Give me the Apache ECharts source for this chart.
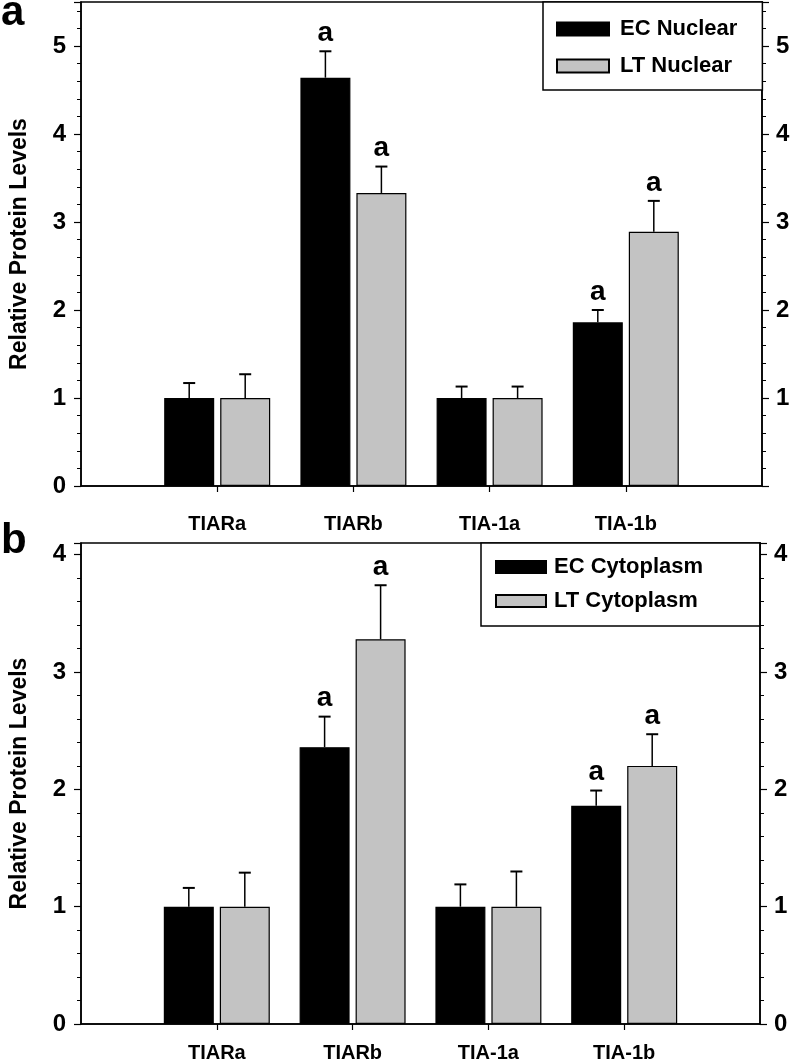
<!DOCTYPE html>
<html>
<head>
<meta charset="utf-8">
<script src="https://cdn.jsdelivr.net/npm/echarts@6/dist/echarts.min.js"></script>
<style>html,body{margin:0;padding:0;background:#fff}#c{width:793px;height:1063px}</style>
</head>
<body>
<div id="c"></div>
<script>
// ---- data ----
const categories = ['TIARa', 'TIARb', 'TIA-1a', 'TIA-1b'];
// Panel a (nuclear)
const ecNuclear = [1.00, 4.64, 1.00, 1.86];
const ecNuclearErr = [0.17, 0.30, 0.13, 0.14];
const ecNuclearSig = ['', 'a', '', 'a'];
const ltNuclear = [1.00, 3.33, 1.00, 2.89];
const ltNuclearErr = [0.27, 0.30, 0.13, 0.35];
const ltNuclearSig = ['', 'a', '', 'a'];
// Panel b (cytoplasm)
const ecCyto = [1.00, 2.36, 1.00, 1.86];
const ecCytoErr = [0.16, 0.26, 0.19, 0.13];
const ecCytoSig = ['', 'a', '', 'a'];
const ltCyto = [1.00, 3.28, 1.00, 2.20];
const ltCytoErr = [0.29, 0.46, 0.30, 0.27];
const ltCytoSig = ['', 'a', '', 'a'];
const yTicksA = [0, 1, 2, 3, 4, 5];
const yTicksB = [0, 1, 2, 3, 4];

// ---- styling ----
const BLACK = '#000000', GRAY = '#c3c3c3';
const BAR_W = 50, BAR_GAP = 6;
const FONT = 'Liberation Sans, Arial, sans-serif';
const axisCats = [''].concat(categories, ['']);
const pad = arr => [null].concat(arr, [null]);

const chart = echarts.init(document.getElementById('c'), null, {renderer: 'canvas'});

function yAxes(gridIndex, max, showLeftMin, showRightMin) {
  const common = {
    type: 'value', gridIndex, min: 0, max, interval: 1,
    splitLine: {show: false},
    axisLine: {show: true, lineStyle: {color: BLACK, width: 1.5}},
    axisTick: {show: true, inside: false, length: 7, lineStyle: {color: BLACK, width: 1.2}},
    minorTick: {show: true, splitNumber: 5, length: 4, lineStyle: {color: BLACK, width: 1}},
    axisLabel: {color: BLACK, fontFamily: FONT, fontWeight: 'bold', fontSize: 24, margin: 15, showMaxLabel: false}
  };
  return [
    Object.assign({}, common, {
      position: 'left',
      name: 'Relative Protein Levels', nameLocation: 'middle', nameGap: 50,
      nameTextStyle: {color: BLACK, fontFamily: FONT, fontWeight: 'bold', fontSize: 23},
      axisLabel: Object.assign({}, common.axisLabel, {showMinLabel: showLeftMin})
    }),
    Object.assign({}, common, {
      position: 'right',
      axisLabel: Object.assign({}, common.axisLabel, {showMinLabel: showRightMin, margin: 14})
    })
  ];
}

function xAxis(gridIndex, margin) {
  return {
    type: 'category', gridIndex, data: axisCats, boundaryGap: false,
    axisLine: {show: true, lineStyle: {color: BLACK, width: 1.5}},
    axisTick: {show: true, length: 6, lineStyle: {color: BLACK, width: 1.2},
      interval: (i) => i > 0 && i < axisCats.length - 1},
    axisLabel: {interval: 0, color: BLACK, fontFamily: FONT, fontWeight: 'bold', fontSize: 20, margin},
    splitLine: {show: false}
  };
}

function barSeries(name, data, color, xi, yi) {
  return {
    name, type: 'bar', xAxisIndex: xi, yAxisIndex: yi, data: pad(data),
    barWidth: BAR_W, barGap: (BAR_GAP / BAR_W * 100) + '%',
    itemStyle: {color, borderColor: BLACK, borderWidth: 1.2},
    z: 2
  };
}

function errSeries(vals, errs, sigs, side, xi, yi) {
  const data = vals.map((v, i) => [i + 1, v, errs[i]]);
  return {
    type: 'custom', xAxisIndex: xi, yAxisIndex: yi, data, z: 5, silent: true,
    renderItem(params, api) {
      const x = api.value(0), v = api.value(1), e = api.value(2);
      const off = side * (BAR_W + BAR_GAP) / 2;
      const p0 = api.coord([x, v]);
      const p1 = api.coord([x, v + e]);
      const cx = p0[0] + off;
      const children = [
        {type: 'line', shape: {x1: cx, y1: p0[1], x2: cx, y2: p1[1]}, style: {stroke: BLACK, lineWidth: 1.5}},
        {type: 'line', shape: {x1: cx - 6, y1: p1[1], x2: cx + 6, y2: p1[1]}, style: {stroke: BLACK, lineWidth: 2}}
      ];
      const s = sigs[params.dataIndex];
      if (s) {
        children.push({type: 'text', x: cx, y: p1[1] - 4,
          style: {text: s, fill: BLACK, font: 'bold 28px ' + FONT, align: 'center', verticalAlign: 'bottom'}});
      }
      return {type: 'group', children};
    }
  };
}

const option = {
  backgroundColor: '#fff',
  animation: false,
  grid: [
    {left: 81, right: 31, top: 2, height: 484, show: true, borderColor: BLACK, borderWidth: 1.5, backgroundColor: 'transparent'},
    {left: 80, right: 33, top: 543, height: 485, show: true, borderColor: BLACK, borderWidth: 1.5, backgroundColor: 'transparent'}
  ],
  xAxis: [xAxis(0, 28), xAxis(1, 19)],
  yAxis: yAxes(0, 5.5, true, false).concat(yAxes(1, 4.1, true, true)),
  legend: [
    {data: ['EC Nuclear', 'LT Nuclear'], orient: 'vertical', left: 543, top: 2,
      backgroundColor: '#fff', borderColor: BLACK, borderWidth: 1.5, borderRadius: 0,
      padding: [16, 25, 13, 13], itemWidth: 52, itemHeight: 13, itemGap: 15, icon: 'rect',
      textStyle: {color: BLACK, fontFamily: FONT, fontWeight: 'bold', fontSize: 22, padding: [0, 0, 0, 6]}},
    {data: ['EC Cytoplasm', 'LT Cytoplasm'], orient: 'vertical', left: 481, top: 543,
      backgroundColor: 'transparent', borderWidth: 0,
      padding: [13, 14, 12, 14], itemWidth: 50, itemHeight: 12, itemGap: 12, icon: 'rect',
      textStyle: {color: BLACK, fontFamily: FONT, fontWeight: 'bold', fontSize: 22, padding: [0, 0, 0, 3]}}
  ],
  graphic: [
    {type: 'text', left: 1, top: -8, style: {text: 'a', fill: BLACK, font: 'bold 42px ' + FONT}},
    {type: 'text', left: 1, top: 520, style: {text: 'b', fill: BLACK, font: 'bold 42px ' + FONT}},
    {type: 'rect', z: 0, shape: {x: 481, y: 543, width: 279, height: 83},
      style: {fill: '#fff', stroke: BLACK, lineWidth: 1.5}}
  ],
  series: [
    barSeries('EC Nuclear', ecNuclear, BLACK, 0, 0),
    barSeries('LT Nuclear', ltNuclear, GRAY, 0, 0),
    errSeries(ecNuclear, ecNuclearErr, ecNuclearSig, -1, 0, 0),
    errSeries(ltNuclear, ltNuclearErr, ltNuclearSig, 1, 0, 0),
    barSeries('EC Cytoplasm', ecCyto, BLACK, 1, 2),
    barSeries('LT Cytoplasm', ltCyto, GRAY, 1, 2),
    errSeries(ecCyto, ecCytoErr, ecCytoSig, -1, 1, 2),
    errSeries(ltCyto, ltCytoErr, ltCytoSig, 1, 1, 2)
  ]
};
chart.setOption(option);
</script>
</body>
</html>
